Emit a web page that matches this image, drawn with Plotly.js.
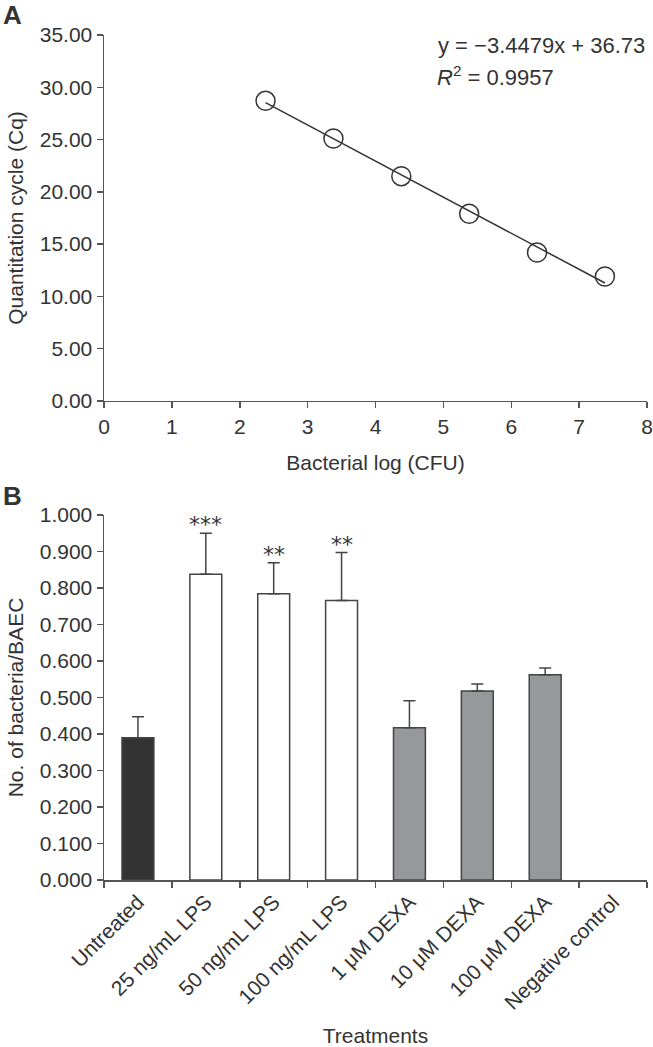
<!DOCTYPE html>
<html>
<head>
<meta charset="utf-8">
<script src="https://cdn.plot.ly/plotly-3.0.1.min.js"></script>
<style>
  html, body { margin: 0; padding: 0; background: #ffffff; }
  #chart { width: 653px; height: 1047px; }
</style>
</head>
<body>
<div id="chart"></div>
<script>
// ---------- Panel A: standard curve ----------
var logCFU = [2.38, 3.38, 4.38, 5.38, 6.38, 7.38];
var cqValues = [28.7, 25.1, 21.5, 17.9, 14.2, 11.9];
var fitSlope = -3.4479;
var fitIntercept = 36.73;
var fitX = [2.38, 7.38];
var fitY = fitX.map(function (x) { return fitSlope * x + fitIntercept; });
var equationText = 'y = \u22123.4479x + 36.73';
var r2Text = '<i>R</i><sup>2</sup> = 0.9957';

// ---------- Panel B: bacteria per BAEC ----------
var treatments = ['Untreated', '25 ng/mL LPS', '50 ng/mL LPS', '100 ng/mL LPS',
                  '1 \u03bcM DEXA', '10 \u03bcM DEXA', '100 \u03bcM DEXA', 'Negative control'];
var meanValues = [0.390, 0.838, 0.784, 0.766, 0.417, 0.518, 0.562, null];
var errorValues = [0.057, 0.112, 0.085, 0.131, 0.074, 0.019, 0.019, null];
var significance = ['', '***', '**', '**', '', '', '', ''];
var barColors = ['#333333', '#ffffff', '#ffffff', '#ffffff', '#97989c', '#97989c', '#97989c', '#97989c'];

var FONT = 'Liberation Sans, Arial, Helvetica, sans-serif';
var TXT = '#333333';
var AX = '#555555';

var traces = [
  {
    x: fitX, y: fitY, type: 'scatter', mode: 'lines',
    line: { color: '#333333', width: 1.5 },
    xaxis: 'x', yaxis: 'y', showlegend: false, hoverinfo: 'skip'
  },
  {
    x: logCFU, y: cqValues, type: 'scatter', mode: 'markers',
    marker: { symbol: 'circle', size: 19, color: 'rgba(255,255,255,0)',
              line: { color: '#333333', width: 1.5 } },
    xaxis: 'x', yaxis: 'y', showlegend: false
  },
  {
    x: treatments, y: meanValues, type: 'bar', width: 0.47,
    marker: { color: barColors, line: { color: '#444444', width: 1.5 } },
    error_y: { type: 'data', symmetric: false, array: errorValues,
               arrayminus: errorValues.map(function () { return 0; }),
               color: '#444444', thickness: 1.5, width: 6 },
    xaxis: 'x2', yaxis: 'y2', showlegend: false
  }
];

var annotations = [
  { text: '<b>A</b>', xref: 'paper', yref: 'paper', x: -0.168, y: 1.0, xanchor: 'center', yanchor: 'middle',
    yshift: 20, showarrow: false, font: { family: FONT, size: 26, color: TXT } },
  { text: '<b>B</b>', xref: 'paper', yref: 'paper', x: -0.168, y: 0.43195, xanchor: 'center', yanchor: 'middle',
    yshift: 19, showarrow: false, font: { family: FONT, size: 26, color: TXT } },
  { text: equationText, xref: 'x', yref: 'y', x: 8, y: 34.0, xanchor: 'right', yanchor: 'middle',
    showarrow: false, font: { family: FONT, size: 22, color: TXT } },
  { text: r2Text, xref: 'x', yref: 'y', x: 4.87, y: 31.1, xanchor: 'left', yanchor: 'middle',
    showarrow: false, font: { family: FONT, size: 22, color: TXT } }
];

treatments.forEach(function (t, i) {
  if (significance[i]) {
    annotations.push({
      text: significance[i], xref: 'x2', yref: 'y2', x: t, y: meanValues[i] + errorValues[i],
      xanchor: 'center', yanchor: 'bottom', yshift: -6, showarrow: false,
      font: { family: 'DejaVu Sans, sans-serif', size: 22, color: TXT }
    });
  }
});

var axisCommon = {
  showline: true, linecolor: AX, linewidth: 1.5,
  ticks: 'outside', ticklen: 6, tickwidth: 1.5, tickcolor: AX,
  showgrid: false, zeroline: false,
  tickfont: { family: FONT, size: 21, color: TXT }
};

var layout = {
  width: 653, height: 1047,
  margin: { l: 104, r: 6, t: 35, b: 167 },
  paper_bgcolor: '#ffffff', plot_bgcolor: '#ffffff',
  font: { family: FONT, color: TXT },
  showlegend: false,
  xaxis: Object.assign({}, axisCommon, {
    anchor: 'y', domain: [0, 1], range: [0, 8], tickvals: [0, 1, 2, 3, 4, 5, 6, 7, 8],
    title: { text: 'Bacterial log (CFU)', font: { family: FONT, size: 21, color: TXT }, standoff: 18 }
  }),
  yaxis: Object.assign({}, axisCommon, {
    anchor: 'x', domain: [0.5669, 1], range: [0, 35], dtick: 5, tick0: 0, tickformat: '.2f',
    title: { text: 'Quantitation cycle (Cq)', font: { family: FONT, size: 21, color: TXT }, standoff: 10 }
  }),
  xaxis2: Object.assign({}, axisCommon, {
    anchor: 'y2', domain: [0, 1], type: 'category', range: [-0.5, 7.5],
    tickson: 'boundaries', tickangle: -45,
    title: { text: 'Treatments', font: { family: FONT, size: 21, color: TXT }, standoff: 16 }
  }),
  yaxis2: Object.assign({}, axisCommon, {
    anchor: 'x2', domain: [0, 0.43195], range: [0, 1], dtick: 0.1, tick0: 0, tickformat: '.3f',
    title: { text: 'No. of bacteria/BAEC', font: { family: FONT, size: 21, color: TXT }, standoff: 10 }
  }),
  annotations: annotations
};

Plotly.newPlot('chart', traces, layout, { staticPlot: true, displayModeBar: false });
</script>
</body>
</html>
